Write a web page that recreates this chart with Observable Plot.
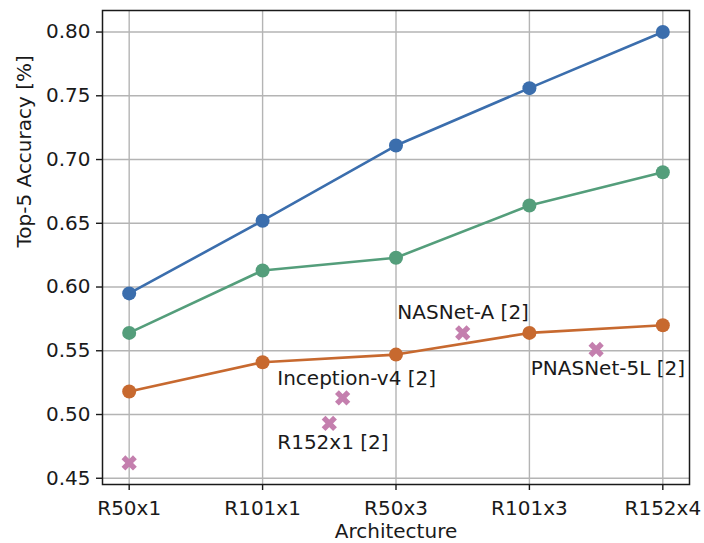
<!DOCTYPE html>
<html><head><meta charset="utf-8">
<script src="https://cdn.jsdelivr.net/npm/d3@7"></script>
<script src="https://cdn.jsdelivr.net/npm/@observablehq/plot@0.6"></script>
<style>html,body{margin:0;padding:0;background:#fff} svg{display:block}</style>
</head><body><div id="chart"></div>
<script>
const architectures = ["R50x1", "R101x1", "R50x3", "R101x3", "R152x4"];
const blueSeries   = [0.595, 0.652, 0.711, 0.756, 0.800];
const greenSeries  = [0.564, 0.613, 0.623, 0.664, 0.690];
const orangeSeries = [0.518, 0.541, 0.547, 0.564, 0.570];
const baselineX = [0, 1.5, 1.6, 2.5, 3.5];
const baselineY = [0.462, 0.493, 0.513, 0.564, 0.551];
const labelText = ["R152x1 [2]", "Inception-v4 [2]", "NASNet-A [2]", "PNASNet-5L [2]"];
const labelX = [1.11, 1.11, 2.01, 3.01];
const labelY = [0.478, 0.528, 0.580, 0.536];
const yTicks = [0.45, 0.50, 0.55, 0.60, 0.65, 0.70, 0.75, 0.80];
const xTicks = [0, 1, 2, 3, 4];

const series = [
  {name: "blue", color: "#3b6ead", values: blueSeries},
  {name: "green", color: "#549e7b", values: greenSeries},
  {name: "orange", color: "#c7692f", values: orangeSeries}
];
const rows = series.flatMap(s => s.values.map((v, i) => ({name: s.name, color: s.color, x: i, y: v})));
const baselines = baselineX.map((x, i) => ({x, y: baselineY[i]}));
const labels = labelText.map((t, i) => ({t, x: labelX[i], y: labelY[i]}));

// filled "X" marker like matplotlib's 'X'
const filledX = {
  draw(ctx, size) {
    const r = Math.sqrt(size / Math.PI);
    const L = r * 1.08, w = r * 0.36;
    const s = Math.SQRT1_2;
    for (const [ux, uy] of [[s, s], [-s, s]]) {
      const vx = -uy, vy = ux;
      ctx.moveTo(L * ux + w * vx, L * uy + w * vy);
      ctx.lineTo(-L * ux + w * vx, -L * uy + w * vy);
      ctx.lineTo(-L * ux - w * vx, -L * uy - w * vy);
      ctx.lineTo(L * ux - w * vx, L * uy - w * vy);
      ctx.closePath();
    }
  }
};

const chart = Plot.plot({
  width: 704, height: 543,
  marginLeft: 102, marginRight: 15, marginTop: 10, marginBottom: 59,
  style: {fontFamily: "DejaVu Sans", fontSize: "20px", color: "#1a1a1a", background: "#fff"},
  x: {domain: [-0.2, 4.2], label: null},
  y: {domain: [0.4451, 0.8169], label: null},
  marks: [
    Plot.gridX(xTicks, {stroke: "#b4b4b4", strokeOpacity: 1, strokeWidth: 1.4}),
    Plot.gridY(yTicks, {stroke: "#b4b4b4", strokeOpacity: 1, strokeWidth: 1.4}),
    Plot.axisX(xTicks, {tickFormat: i => architectures[i], tickSize: 6, tickPadding: 10, stroke: "#1a1a1a", strokeWidth: 1.4, label: null}),
    Plot.axisY(yTicks, {tickFormat: d3.format(".2f"), tickSize: 6, tickPadding: 6, stroke: "#1a1a1a", strokeWidth: 1.4, label: null}),
    Plot.line(rows, {x: "x", y: "y", z: "name", stroke: "color", strokeWidth: 2.6}),
    Plot.dot(rows, {x: "x", y: "y", fill: "color", r: 7, stroke: null}),
    Plot.dot(baselines, {x: "x", y: "y", symbol: filledX, r: 7.5, fill: "#c47fae", stroke: null}),
    Plot.text(labels, {x: "x", y: "y", text: "t", textAnchor: "start", lineAnchor: "middle", fill: "#1a1a1a"}),
    Plot.frame({stroke: "#1a1a1a", strokeWidth: 1.5}),
    Plot.text(["Architecture"], {frameAnchor: "bottom", dy: 47, lineAnchor: "middle", fill: "#1a1a1a"}),
    Plot.text(["Top-5 Accuracy [%]"], {frameAnchor: "left", dx: -78, rotate: -90, lineAnchor: "middle", fill: "#1a1a1a"})
  ]
});
document.getElementById("chart").appendChild(chart);
</script>
</body></html>
